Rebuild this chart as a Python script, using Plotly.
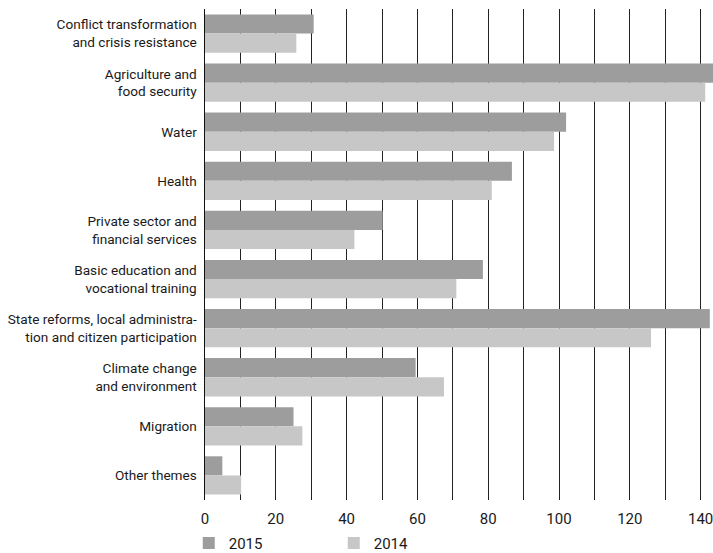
import plotly.graph_objects as go

categories = [
    "Conflict transformation<br>and crisis resistance",
    "Agriculture and<br>food security",
    "Water",
    "Health",
    "Private sector and<br>financial services",
    "Basic education and<br>vocational training",
    "State reforms, local administra-<br>tion and citizen participation",
    "Climate change<br>and environment",
    "Migration",
    "Other themes",
]
values_2015 = [30.7, 144.5, 102.0, 86.7, 50.2, 78.5, 142.6, 59.5, 25.0, 4.9]
values_2014 = [25.8, 141.3, 98.6, 81.0, 42.2, 71.0, 126.0, 67.5, 27.5, 10.2]
x_ticks = [0, 20, 40, 60, 80, 100, 120, 140]

FONT = "Roboto, Noto Sans, sans-serif"

fig = go.Figure()
fig.add_trace(go.Bar(y=categories, x=values_2015, name="2015", orientation="h",
                     marker=dict(color="#9d9d9d", line=dict(width=0))))
fig.add_trace(go.Bar(y=categories, x=values_2014, name="2014", orientation="h",
                     marker=dict(color="#c6c7c6", line=dict(width=0))))

fig.update_layout(
    width=713, height=553,
    margin=dict(l=205, r=0, t=9, b=53, autoexpand=False),
    paper_bgcolor="white", plot_bgcolor="white",
    barmode="group", bargap=0.22, bargroupgap=0,
    font=dict(family=FONT, size=14, color="#1a1a1a"),
    showlegend=True,
    legend=dict(orientation="h", x=-0.032, xanchor="left", y=-0.088, yanchor="middle",
                font=dict(size=15), entrywidth=100, entrywidthmode="pixels",
                itemwidth=30, traceorder="normal"),
    xaxis=dict(range=[0, 143.5], tickvals=x_ticks, showgrid=True, gridcolor="#222222",
               gridwidth=1, zeroline=False, showline=False, ticks="", automargin=False,
               tickfont=dict(size=15), fixedrange=True, ticklabelstandoff=8,
               ticklabeloverflow="allow",
               minor=dict(dtick=10, tick0=0, showgrid=True, gridcolor="#222222", gridwidth=1)),
    yaxis=dict(autorange="reversed", showline=True, linecolor="#111111", linewidth=1.5,
               ticks="", showgrid=False, ticklabelstandoff=4, automargin=False,
               tickfont=dict(size=13.6), fixedrange=True),
)

fig.write_html("out.html", config={"displayModeBar": False, "staticPlot": True},
               post_script="document.body.style.margin='0';document.body.style.overflow='hidden';")
